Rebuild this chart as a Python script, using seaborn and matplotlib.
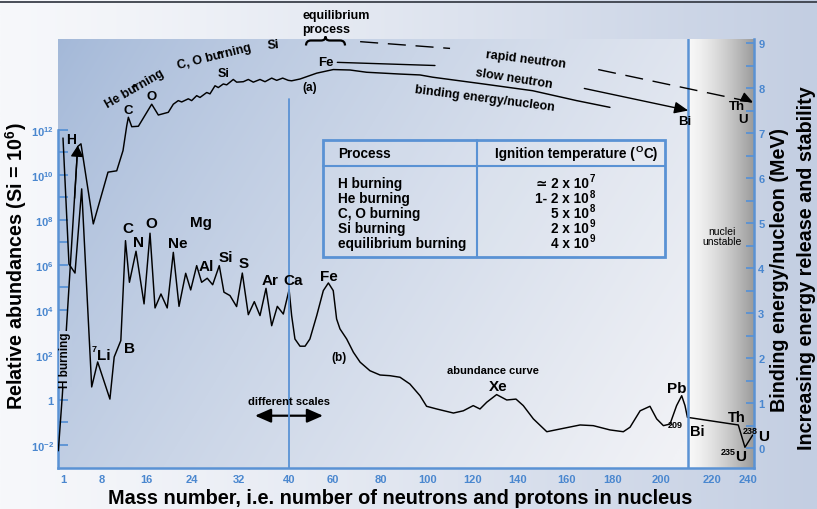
import numpy as np
import matplotlib
matplotlib.use("Agg")
import matplotlib.pyplot as plt
import matplotlib.transforms as mtransforms
from matplotlib.colors import to_rgb
from matplotlib.path import Path
from matplotlib.patches import PathPatch, Rectangle
import seaborn as sns

# ---------------------------------------------------------------- data
# (a) binding energy per nucleon (MeV) against mass number
be_mass = [0.15, 0.87, 1.67, 3.66, 4.25, 6.48, 9.12, 10.67, 11.79, 12.45, 12.74,
           13.34, 14.52, 16.88, 18.04, 19.79, 20.67, 21.54, 22.14, 23.30, 23.89,
           24.75, 25.32, 26.47, 27.03, 27.89, 28.45, 29.31, 29.89, 31.02, 31.60,
           32.69, 33.49, 34.29, 35.36, 36.16, 37.23, 38.03, 38.99, 39.89, 41.2,
           45.0, 52.6, 60.1, 67.1, 74.0, 81.0, 88.1, 96.6, 102.1, 124.6, 146.1,
           164.5, 178.7]
be_mev = [-0.06, 1.16, 2.76, 6.70, 6.76, 4.98, 6.13, 6.16, 6.61, 7.16, 7.35,
          7.14, 7.15, 7.64, 7.40, 7.46, 7.64, 7.72, 7.69, 7.76, 7.72,
          7.83, 7.79, 7.90, 7.87, 8.05, 8.01, 8.09, 8.07, 8.19, 8.13,
          8.14, 8.19, 8.13, 8.19, 8.14, 8.22, 8.17, 8.22, 8.17, 8.16,
          8.20, 8.33, 8.41, 8.40, 8.35, 8.33, 8.31, 8.29, 8.24, 8.09, 7.94,
          7.72, 7.57]

# (b) relative abundance curve, log10 (Si = 10^6), against mass number
ab_mass = [1.0, 2.08, 3.17, 4.38, 6.19, 7.27, 9.46, 10.22, 11.4, 12.23,
           12.93, 14.1, 15.53, 16.58, 17.46, 18.5, 19.6, 20.67, 21.67, 22.84,
           23.72, 24.75, 25.6, 26.56, 27.49, 28.62, 29.42, 30.45, 31.59, 32.53,
           33.49, 34.45, 35.36, 36.32, 37.23, 38.13, 39.09, 40.05, 41.2, 42.7,
           45.0, 47.3, 49.5, 52.6, 55.6, 57.9, 60.1, 61.5, 62.9, 65.7,
           68.5, 71.3, 75.4, 79.6, 83.8, 88.1, 92.3, 96.6, 99.4, 103.9,
           111.3, 115.7, 120.1, 123.1, 126.1, 130.5, 135.0, 139.1, 142.2, 146.4,
           152.0, 157.5, 166.0, 171.6, 178.7, 184.3, 187.1, 191.3, 195.4, 198.2,
           200.8, 203.0, 205.2, 206.9, 208.0, 208.8, 234.6, 238.3, 242.6]
ab_log = [11.64, 6.04, 5.64, 9.38, 0.58, 1.69, 0.04, 1.91, 2.64, 7.08,
          5.23, 6.61, 4.27, 7.41, 4.09, 4.71, 4.09, 6.56, 4.16, 5.63,
          4.89, 5.97, 5.23, 5.41, 5.12, 5.97, 4.79, 4.64, 4.15, 5.64,
          3.79, 4.37, 3.75, 4.96, 3.30, 4.16, 3.82, 4.90, 3.75, 2.71,
          2.39, 2.39, 2.71, 3.75, 4.86, 5.20, 4.86, 3.60, 3.16, 2.71,
          2.12, 1.68, 1.30, 1.11, 1.08, 1.01, 0.71, 0.19, -0.28, -0.40,
          -0.58, -0.48, -0.25, -0.40, -0.10, 0.24, 0.00, 0.04, -0.25, -0.84,
          -1.41, -1.29, -1.11, -1.14, -1.33, -1.41, -1.21, -0.48, -0.28, -0.84,
          -1.14, -1.07, -0.25, 0.19, -0.25, -0.77, -1.11, -2.10, -1.56]

# neutron-capture guide lines (mass number, MeV)
fe_line_mass = [61.8, 103.1]
fe_line_mev = [8.57, 8.50]
slow_mass = [167.8, 209.1]
slow_mev = [7.99, 7.50]
rapid1_mass = [71.3, 109.8]
rapid1_mev = [9.03, 8.88]
rapid2_mass = [173.7, 242.8]
rapid2_mev = [8.41, 7.68]

# H-burning arrow head on curve (a)
h_arrow_mass = [3.1, 3.66]
h_arrow_mev = [5.55, 6.72]

# axis ticks
x_ticks = [1, 8, 16, 24, 32, 40, 60, 80, 100, 120, 140, 160, 180, 200, 220, 240]
x_tick_labels = [str(t) for t in x_ticks]
ab_ticks = [-2, 0, 2, 4, 6, 8, 10, 12]
ab_tick_labels = ["10$^{-2}$", "1", "10$^{2}$", "10$^{4}$", "10$^{6}$",
                  "10$^{8}$", "10$^{10}$", "10$^{12}$"]
ab_minor = [-1, 1, 3, 5, 7, 9, 11]
be_ticks = list(range(10))
be_minor = [0.5 + i for i in range(9)]

# ignition temperatures (mantissa text and power of ten)
processes = ["H burning", "He burning", "C, O burning", "Si burning",
             "equilibrium burning"]
ignition_base = ["\u2243 2 x 10", "1- 2 x 10", "5 x 10", "2 x 10", "4 x 10"]
ignition_exp = ["7", "8", "8", "9", "9"]

# ---------------------------------------------------------------- style
sns.set_theme(style="white")
plt.rcParams["font.family"] = ["Liberation Sans", "DejaVu Sans"]
plt.rcParams["mathtext.fontset"] = "custom"
plt.rcParams["mathtext.rm"] = "Liberation Sans:bold"
plt.rcParams["mathtext.bf"] = "Liberation Sans:bold"
plt.rcParams["mathtext.sf"] = "Liberation Sans:bold"
plt.rcParams["mathtext.it"] = "Liberation Sans:bold:italic"

W, H = 817, 510
fig = plt.figure(figsize=(W / 100, H / 100), dpi=100)
PX = mtransforms.Affine2D().scale(1 / W, -1 / H).translate(0, 1) + fig.transFigure

BLUE = "#5a92d4"
TICK_BLUE = "#4a87cf"
L, R, T, B = 58, 754, 40, 469


def gradient(c0, c1, t):
    a, b = np.array(to_rgb(c0)), np.array(to_rgb(c1))
    return a + (b - a) * np.clip(t, 0, 1)[..., None]


def plot_t(uu, vv):
    return np.clip(0.8 * uu + 0.3 * vv, 0, 1) ** 0.8


PLOT_C0, PLOT_C1 = "#a3b8d8", "#f1f2f6"


def plot_bg_at(x, y):
    t = plot_t((x - L) / (R - L), (y - T) / (B - T))
    return tuple(gradient(PLOT_C0, PLOT_C1, np.array(t)))


# ---------------------------------------------------------------- background
bg = fig.add_axes([0, 0, 1, 1], zorder=-5)
bg.set_axis_off()
u = np.linspace(0, 1, 400)[None, :]
v = np.linspace(0, 1, 260)[:, None]
bg.imshow(gradient("#f7f8fb", "#c3cee2", u ** 1.2 + 0 * v), extent=[0, W, H, 0],
          aspect="auto", interpolation="bilinear")
bg.imshow(gradient(PLOT_C0, PLOT_C1, plot_t(u, v)), extent=[L, R, B, T],
          aspect="auto", interpolation="bilinear")
g = np.linspace(0, 1, 200)[None, :] ** 1.4 + 0 * v
bg.imshow(gradient("#f8f8f8", "#9b9b9b", g), extent=[688, R, B, T],
          aspect="auto", interpolation="bilinear")
bg.axhline(2.5, color="#3b404a", lw=1.3)
bg.set_xlim(0, W)
bg.set_ylim(H, 0)

# ignition table frame
bg.add_patch(Rectangle((322.7, 140.7), 342.3, 117, facecolor=(1, 1, 1, 0.10),
                       edgecolor=BLUE, lw=2.0))
bg.plot([322.7, 665], [167.3, 167.3], color=BLUE, lw=1.5)
bg.plot([477.3, 477.3], [140.7, 257.7], color=BLUE, lw=1.5)

# brace over the Fe peak ("equilibrium process")
brace = Path([(306, 46.5), (306, 41.5), (311, 41.5), (321, 41.5), (325.5, 41.5),
              (325.5, 37.5), (325.5, 41.5), (330, 41.5), (340, 41.5),
              (345, 41.5), (345, 46.5)],
             [Path.MOVETO, Path.CURVE3, Path.CURVE3, Path.LINETO, Path.CURVE3,
              Path.CURVE3, Path.CURVE3, Path.CURVE3, Path.LINETO,
              Path.CURVE3, Path.CURVE3])
bg.add_patch(PathPatch(brace, fill=False, lw=1.6, color="black"))

# "different scales" double arrow
bg.annotate("", xy=(323, 416.7), xytext=(255, 416.7),
            arrowprops=dict(arrowstyle="<|-|>,head_length=0.8,head_width=0.35",
                            lw=1.6, color="black", shrinkA=0, shrinkB=0))

# ---------------------------------------------------------------- main axes
ax = fig.add_axes([L / W, 1 - B / H, (R - L) / W, (B - T) / H])
ax.set_facecolor("none")

knot_mass = [-10, 0, 1, 8, 16, 24, 32, 40, 60, 80, 100, 120, 140, 160, 180,
             200, 209, 220, 240, 270]
knot_pos = [2.5, 57.5, 63, 101.7, 146.7, 192.3, 239, 289, 333, 381, 428, 473,
            518, 566, 613, 661, 688, 712, 748, 802]


def fwd(a):
    return np.interp(a, knot_mass, knot_pos)


def inv(p):
    return np.interp(p, knot_pos, knot_mass)


ax.set_xscale("function", functions=(fwd, inv))
ax2 = ax.twinx()
ax2.set_facecolor("none")

sns.lineplot(x=ab_mass, y=ab_log, ax=ax, color="black", lw=1.05,
             sort=False, estimator=None)
sns.lineplot(x=be_mass, y=be_mev, ax=ax2, color="black", lw=1.05,
             sort=False, estimator=None)

ax2.plot(fe_line_mass, fe_line_mev, color="black", lw=1.0)
ax2.annotate("", xy=(slow_mass[1], slow_mev[1]), xytext=(slow_mass[0], slow_mev[0]),
             arrowprops=dict(arrowstyle="-|>,head_length=0.7,head_width=0.3",
                             lw=1.0, color="black", shrinkA=0, shrinkB=0))
ax2.plot(rapid1_mass, rapid1_mev, color="black", lw=1.0, ls=(0, (13, 7)))
ax2.plot(rapid2_mass, rapid2_mev, color="black", lw=1.0, ls=(0, (13, 7)),
         clip_on=False)
ax2.annotate("", xy=(rapid2_mass[1], rapid2_mev[1]),
             xytext=(rapid2_mass[1] - 2.0, rapid2_mev[1] + 0.04),
             arrowprops=dict(arrowstyle="-|>,head_length=0.6,head_width=0.25",
                             lw=1.0, color="black", shrinkA=0, shrinkB=0),
             annotation_clip=False)
ax2.annotate("", xy=(h_arrow_mass[1], h_arrow_mev[1]),
             xytext=(h_arrow_mass[0], h_arrow_mev[0]),
             arrowprops=dict(arrowstyle="-|>,head_length=0.55,head_width=0.32",
                             lw=1.0, color="black", shrinkA=0, shrinkB=0))

ax.set_xlim(inv(L), inv(R))
ax.set_ylim(-3.022, 16.04)
ax2.set_ylim(-0.444, 9.089)

ax.axvline(209, color=BLUE, lw=1.8)
ax2.axvline(40, ymax=(7.76 + 0.444) / 9.533, color=BLUE, lw=1.3)

# spines and ticks
for s in ("top", "right"):
    ax.spines[s].set_visible(False)
for s in ("top", "left", "bottom"):
    ax2.spines[s].set_visible(False)
ax.spines["left"].set_bounds(-3.022, 12)
for sp in (ax.spines["left"], ax.spines["bottom"], ax2.spines["right"]):
    sp.set_color(BLUE)
    sp.set_linewidth(1.8)

ax.set_xticks(x_ticks)
ax.set_xticklabels(x_tick_labels)
ax.set_xticks([], minor=True)
ax.set_yticks(ab_ticks)
ax.set_yticklabels(ab_tick_labels)
ax.set_yticks(ab_minor, minor=True)
ax2.set_yticks(be_ticks)
ax2.set_yticklabels([str(t) for t in be_ticks])
ax2.set_yticks(be_minor, minor=True)

ax.tick_params(axis="x", which="major", direction="in", length=6, width=1.4,
               color=BLUE, labelcolor=TICK_BLUE, labelsize=8, pad=4)
ax.tick_params(axis="y", which="both", direction="in", length=7, width=1.3,
               color=BLUE, labelcolor=TICK_BLUE, labelsize=8, pad=3)
ax2.tick_params(axis="y", which="both", direction="in", length=6, width=1.3,
                color=BLUE, labelcolor=TICK_BLUE, labelsize=8, pad=3)
for lab in ax.get_xticklabels() + ax.get_yticklabels() + ax2.get_yticklabels():
    lab.set_fontweight("bold")
ax.set_xlabel("")
ax.set_ylabel("")
ax2.set_ylabel("")


# ---------------------------------------------------------------- text
def put(x, y, s, size=9, weight="bold", **kw):
    kw.setdefault("ha", "center")
    kw.setdefault("va", "center")
    return fig.text(x, y, s, transform=PX, fontsize=size, fontweight=weight,
                    color="black", **kw)


renderer = fig.canvas.get_renderer()


def right_edge(txt):
    return txt.get_window_extent(renderer).x1


# axis titles
put(16, 266, "Relative abundances (Si = 10$^{6}$)", size=14.2, rotation=90)
put(400.5, 499, "Mass number, i.e. number of neutrons and protons in nucleus",
    size=14.3)
put(780, 270, "Binding energy/nucleon (MeV)", size=14.2, rotation=90)
put(806.5, 268, "Increasing energy release and stability", size=14.2, rotation=90)

# labels on the binding-energy curve
put(135, 89, "He burning", size=9, rotation=30)
put(133.5, 86.5, "\u25cf", size=5.5)
put(214.5, 57.5, "C, O burning", size=9, rotation=14)
put(218.3, 53.5, "\u25cf", size=5.5)
put(273, 45, "Si", size=9, rotation=5)
put(224, 74, "Si", size=9)
put(128, 110.5, "C", size=9.5)
put(152, 96.5, "O", size=9.5)
put(326, 63, "Fe", size=9.5)
put(310, 87.5, "(a)", size=8.5)
put(302.5, 16.5, "equilibrium", size=9, ha="left")
put(302.5, 29.5, "process", size=9, ha="left")
put(526, 60, "rapid neutron", size=9, rotation=-7)
put(514, 79.5, "slow neutron", size=9, rotation=-9)
put(485, 99, "binding energy/nucleon", size=9, rotation=-7.3)
put(685, 122, "Bi", size=9.5)
put(737, 107.5, "Th", size=9.5)
put(743.5, 120, "U", size=9.5)

# labels on the abundance curve
put(71.5, 140, "H", size=10)
put(65.5, 360, "H burning", size=8.5, rotation=90,
    bbox=dict(boxstyle="square,pad=0.05", fc=plot_bg_at(65, 360), ec="none"))
for s, x, y in [("C", 127.7, 229.3), ("N", 138.3, 243.3), ("O", 151, 224),
                ("Ne", 177.7, 244), ("Mg", 201, 223.3), ("Al", 206.7, 267.3),
                ("Si", 225.7, 258.3), ("S", 243.3, 264), ("Ar", 270, 280.7),
                ("Ca", 292.7, 280.7), ("Fe", 329.3, 276.7), ("B", 130, 349),
                ("Xe", 498.3, 387.3), ("Pb", 676.7, 389.3)]:
    put(x, y, s, size=11)
put(94, 349.5, "7", size=6.5)
put(103.5, 356, "Li", size=11)
put(339.3, 358.3, "(b)", size=8.5)
put(289.3, 401.7, "different scales", size=8)
put(493.3, 370.7, "abundance curve", size=8)
put(675, 425.5, "209", size=6.5)
put(697.7, 431.7, "Bi", size=10.5)
put(736.7, 418.3, "Th", size=10.5)
put(750.5, 431.5, "238", size=6.5)
put(763.5, 437, "U", size=11)
put(728.5, 453, "235", size=6.5)
put(740.5, 457, "U", size=11)
put(721.7, 231.7, "nuclei", size=7.5, weight="normal")
put(721.7, 241.7, "unstable", size=7.5, weight="normal")

# ignition table contents
put(338.3, 154.5, "Process", size=9.8, ha="left")
head = put(495, 154.5, "Ignition temperature (", size=9.8, ha="left")
deg = put(right_edge(head) + 0.8, 150, "O", size=6.8, ha="left")
put(right_edge(deg) + 0.8, 154.5, "C)", size=9.8, ha="left")
row_y = [184, 199.3, 213.8, 229, 244]
for name, base, power, y in zip(processes, ignition_base, ignition_exp, row_y):
    put(338.3, y, name, size=9.8, ha="left")
    b = put(589, y, base, size=9.8, ha="right")
    put(right_edge(b) + 0.6, y - 4.5, power, size=7, ha="left")

fig.savefig("out.png", dpi=100)
